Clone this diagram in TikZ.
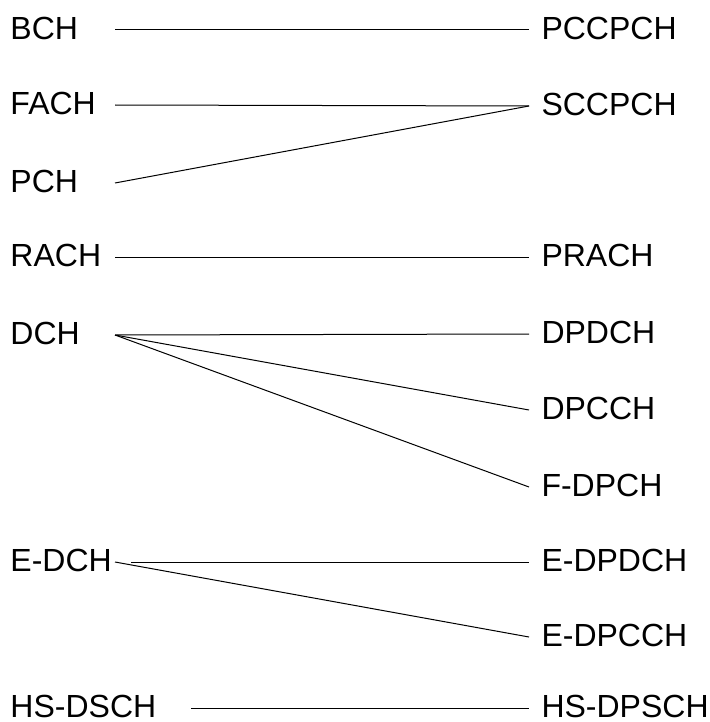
\documentclass[tikz,border=0pt]{standalone}
\usepackage{fontspec}
\setmainfont{Liberation Sans}
\usepackage{tikz}
\usetikzlibrary{positioning}

\begin{document}
\begin{tikzpicture}[x=0.5pt, y=-0.5pt, line width=0.5pt,
  trch/.style={anchor=west, inner sep=0pt, text width=52pt, align=left, text depth=2pt, font=\fontsize{16}{19}\selectfont},
  phch/.style={anchor=west, inner xsep=6pt, inner ysep=0pt, text depth=2pt, font=\fontsize{16}{19}\selectfont},
  map/.style={draw=black}]

\useasboundingbox (0,0) rectangle (709,722);

% transport channels
\node[trch] (bch)   at (10,30)  {BCH};
\node[trch] (fach)  at (10,105) {FACH};
\node[trch] (pch)   at (10,183) {PCH};
\node[trch] (rach)  at (10,257) {RACH};
\node[trch] (dch)   at (10,335) {DCH};
\node[trch] (edch)  at (10,562) {E-DCH};
\node[trch, text width=90pt] (hsdsch) at (10,708) {HS-DSCH};

% physical channels
\node[phch] (pccpch)  at (529,30)  {PCCPCH};
\node[phch] (sccpch)  at (529,106) {SCCPCH};
\node[phch] (prach)   at (529,257) {PRACH};
\node[phch] (dpdch)   at (529,334) {DPDCH};
\node[phch] (dpcch)   at (529,410) {DPCCH};
\node[phch] (fdpch)   at (529,487) {F-DPCH};
\node[phch] (edpdch)  at (529,562) {E-DPDCH};
\node[phch] (edpcch)  at (529,637) {E-DPCCH};
\node[phch] (hsdpsch) at (529,708) {HS-DPSCH};

% mapping
\draw[map] (bch.east) -- (pccpch.west);
\draw[map] (fach.east) -- (sccpch.west);
\draw[map] (pch.east) -- (sccpch.west);
\draw[map] (rach.east) -- (prach.west);
\draw[map] (dch.east) -- (dpdch.west);
\draw[map] (dch.east) -- (dpcch.west);
\draw[map] (dch.east) -- (fdpch.west);
\draw[map] ([xshift=8pt]edch.east) -- (edpdch.west);
\draw[map] (edch.east) -- (edpcch.west);
\draw[map] (hsdsch.east) -- (hsdpsch.west);
\end{tikzpicture}
\end{document}
